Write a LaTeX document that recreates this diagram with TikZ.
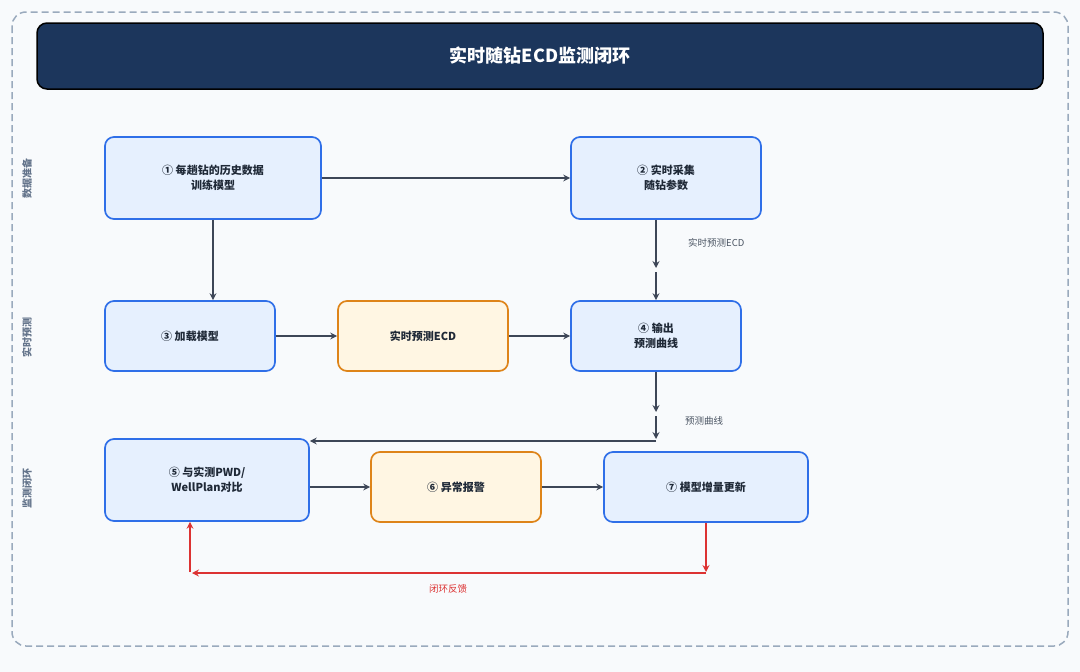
\documentclass[tikz,border=0pt]{standalone}
\usepackage{fontspec}
\setmainfont{Noto Sans CJK SC}
\usetikzlibrary{arrows.meta}
\definecolor{bgc}{HTML}{F8FAFC}
\definecolor{framec}{HTML}{9AAABD}
\definecolor{navy}{HTML}{1C365C}
\definecolor{bluefill}{HTML}{E6F0FE}
\definecolor{blueline}{HTML}{2F6FE8}
\definecolor{orfill}{HTML}{FFF6E3}
\definecolor{orline}{HTML}{DE8419}
\definecolor{txt}{HTML}{1F2937}
\definecolor{arr}{HTML}{3D4657}
\definecolor{lbl}{HTML}{4B5563}
\definecolor{side}{HTML}{64748B}
\definecolor{redc}{HTML}{DC3232}
\tikzset{
  boxb/.style={draw=blueline, fill=bluefill, line width=1.7pt, rounded corners=9pt, align=center, text=txt, font=\fontsize{11}{15}\selectfont\bfseries, inner sep=0pt},
  boxo/.style={boxb, draw=orline, fill=orfill},
  conn/.style={draw=arr, line width=1.7pt, -{Stealth[length=7pt,width=7pt,inset=2.5pt]}},
  redconn/.style={draw=redc, line width=1.6pt, -{Stealth[length=7pt,width=7pt,inset=2.5pt]}},
  elabel/.style={text=lbl, font=\fontsize{9.5}{11}\selectfont, fill=bgc, inner sep=1pt},
  sidelabel/.style={text=side, font=\fontsize{10}{12}\selectfont\bfseries, rotate=90}
}
\begin{document}
\begin{tikzpicture}[x=1pt,y=-1pt]
\useasboundingbox (0,0) rectangle (1080,672);
\fill[bgc] (0,0) rectangle (1080,672);
\draw[framec, line width=1.5pt, dash pattern=on 7pt off 4pt, rounded corners=14pt] (12,12) rectangle (1068,646);
\node[draw=black, fill=navy, line width=1.5pt, rounded corners=10pt, minimum width=1006pt, minimum height=66pt, text=white, font=\fontsize{18}{22}\selectfont\bfseries] (title) at (540,56) {实时随钻ECD监测闭环};

\node[sidelabel] (s1) at (27,178) {数据准备};
\node[sidelabel] (s2) at (27,337) {实时预测};
\node[sidelabel] (s3) at (27,488) {监测闭环};

\node[boxb, minimum width=216pt, minimum height=82pt] (b1) at (213,178) {① 每趟钻的历史数据\\训练模型};
\node[boxb, minimum width=190pt, minimum height=82pt] (b2) at (666,178) {② 实时采集\\随钻参数};
\node[boxb, minimum width=170pt, minimum height=70pt] (b3) at (190,336) {③ 加载模型};
\node[boxo, minimum width=170pt, minimum height=70pt] (be) at (423,336) {实时预测ECD};
\node[boxb, minimum width=170pt, minimum height=70pt] (b4) at (656,336) {④ 输出\\预测曲线};
\node[boxb, minimum width=204pt, minimum height=82pt] (b5) at (207,480) {⑤ 与实测PWD/\\WellPlan对比};
\node[boxo, minimum width=170pt, minimum height=70pt] (b6) at (456,487) {⑥ 异常报警};
\node[boxb, minimum width=204pt, minimum height=70pt] (b7) at (706,487) {⑦ 模型增量更新};

% row 1
\draw[conn] (b1.east) -- (b2.west);
\draw[conn] (b1.south) -- (b1.south |- b3.north);
\coordinate (c1) at (656,268);
\coordinate (c2) at (656,272);
\draw[conn] (b2.south -| c1) -- (c1);
\draw[conn] (c2) -- (c2 |- b4.north);
\node[elabel, anchor=west] (l1) at (687,243) {实时预测ECD};

% row 2
\draw[conn] (b3.east) -- (be.west);
\draw[conn] (be.east) -- (b4.west);
\coordinate (c3) at (656,412);
\coordinate (c4) at (656,416);
\coordinate (c5) at (656,441);
\draw[conn] (b4.south -| c3) -- (c3);
\draw[conn] (c4) -- (656,439);
\draw[conn] (c5) -- (b5.east |- c5);
\node[elabel, anchor=west] (l2) at (684,421) {预测曲线};

% row 3
\draw[conn] (b5.east |- b6.west) -- (b6.west);
\draw[conn] (b6.east) -- (b7.west);

% feedback loop
\coordinate (r1) at (706,572);
\coordinate (r2) at (706,573);
\coordinate (r3) at (192,573);
\coordinate (r4) at (190,572);
\draw[redconn, line width=1.4pt] (b7.south) -- (r1);
\draw[redconn] (r2) -- (r3);
\draw[redconn] (r4) -- (r4 |- b5.south);
\node[elabel, text=redc] (l3) at (448,589) {闭环反馈};
\end{tikzpicture}
\end{document}
